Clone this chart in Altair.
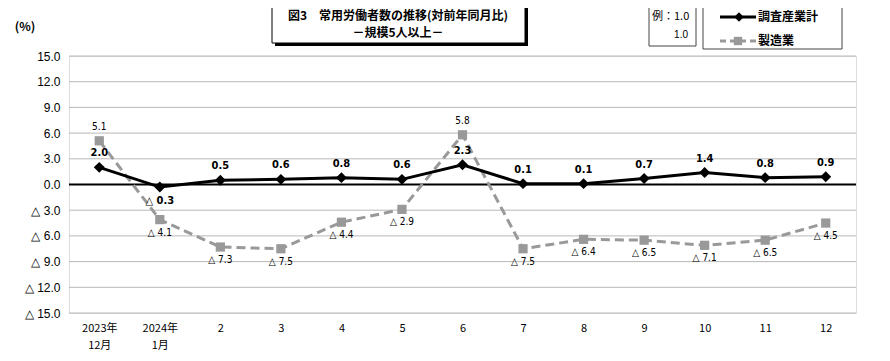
import altair as alt
import pandas as pd

months = ["2023年|12月", "2024年|1月", "2", "3", "4", "5", "6", "7", "8", "9", "10", "11", "12"]
total = [2.0, -0.3, 0.5, 0.6, 0.8, 0.6, 2.3, 0.1, 0.1, 0.7, 1.4, 0.8, 0.9]
mfg = [5.1, -4.1, -7.3, -7.5, -4.4, -2.9, 5.8, -7.5, -6.4, -6.5, -7.1, -6.5, -4.5]
y_ticks = [-15, -12, -9, -6, -3, 0, 3, 6, 9, 12, 15]

W, H = 787, 257
NUMFONT = "Liberation Sans Narrow, DejaVu Sans Condensed, Arial, sans-serif"
JPFONT = "Noto Sans CJK JP, sans-serif"


def lab(v):
    return ("△ " + f"{abs(v):.1f}") if v < 0 else f"{v:.1f}"


df_t = pd.DataFrame({"month": months, "v": total, "label": [lab(v) for v in total]})
df_m = pd.DataFrame({"month": months, "v": mfg, "label": [lab(v) for v in mfg]})
df_grid = pd.DataFrame({"v": y_ticks})

xenc = alt.X(
    "month:O",
    sort=months,
    scale=alt.Scale(type="point", padding=0.5),
    axis=alt.Axis(
        title=None, labelAngle=0, ticks=False, domain=False, grid=False,
        labelExpr="split(datum.label, '|')", labelFont=JPFONT,
        labelFontSize=11, labelPadding=9, labelLineHeight=17, labelColor="#000",
    ),
)
yscale = alt.Scale(domain=[-15, 15], nice=False, zero=False)
yaxis = alt.Axis(
    title=None, values=y_ticks, grid=False, labelOverlap=False,
    domain=False, ticks=False, labelPadding=9, labelFont="Liberation Sans, Arial, sans-serif",
    labelFontSize=12, labelColor="#000",
    labelExpr="datum.value < 0 ? '△ ' + format(-datum.value, '.1f') : format(datum.value, '.1f')",
)
yenc = alt.Y("v:Q", scale=yscale, axis=yaxis)

base_m = alt.Chart(df_m)
base_t = alt.Chart(df_t)

grid = alt.Chart(df_grid).mark_rule(color="#b8b8b8", strokeWidth=1).encode(y=yenc)
zero = alt.Chart(pd.DataFrame({"v": [0]})).mark_rule(color="#000", strokeWidth=2).encode(y=yenc)

m_line = base_m.mark_line(color="#999999", strokeWidth=3, strokeDash=[9, 5]).encode(x=xenc, y=yenc)
m_pts = base_m.mark_point(shape="square", filled=True, color="#999999", size=85, opacity=1).encode(x=xenc, y=yenc)
m_lab_pos = base_m.transform_filter("datum.v >= 0").mark_text(
    dy=-14, font=NUMFONT, fontSize=10, color="#000").encode(x=xenc, y=yenc, text="label:N")
m_lab_neg = base_m.transform_filter("datum.v < 0").mark_text(
    dy=13, font=NUMFONT, fontSize=10, color="#000").encode(x=xenc, y=yenc, text="label:N")

t_line = base_t.mark_line(color="#000", strokeWidth=3).encode(x=xenc, y=yenc)
t_pts = base_t.mark_point(shape="diamond", filled=True, color="#000", size=120, opacity=1).encode(x=xenc, y=yenc)
t_lab_pos = base_t.transform_filter("datum.v >= 0").mark_text(
    dy=-14, font=NUMFONT, fontSize=11, fontWeight="bold", color="#000").encode(x=xenc, y=yenc, text="label:N")
t_lab_neg = base_t.transform_filter("datum.v < 0").mark_text(
    dy=14, font=NUMFONT, fontSize=11, fontWeight="bold", color="#000").encode(x=xenc, y=yenc, text="label:N")

one = pd.DataFrame({"a": [0]})
X0, Y0 = 69, 56  # plot origin on page


def px(x):
    return alt.value(x - X0)


def py(y):
    return alt.value(y - Y0)


def box(x1, y1, x2, y2, fill="#fff", stroke="#000", sw=1):
    return alt.Chart(one).mark_rect(fill=fill, stroke=stroke, strokeWidth=sw).encode(
        x=px(x1), x2=px(x2), y=py(y1), y2=py(y2))


def txt(x, y, s, size=12, weight="normal", align="center", font=JPFONT):
    return alt.Chart(one).mark_text(text=s, fontSize=size, fontWeight=weight, align=align,
                                    baseline="middle", font=font, color="#000").encode(x=px(x), y=py(y))


ann = [
    txt(25, 27, "(%)", size=12, weight="bold"),
    box(272, 3, 525, 43),
    box(525, 6, 528, 46, fill="#000", stroke="#000", sw=0),
    box(275, 43, 528, 46, fill="#000", stroke="#000", sw=0),
    txt(398, 16, "図3　常用労働者数の推移(対前年同月比)", size=12, weight="bold"),
    txt(398, 33, "－規模5人以上－", size=12, weight="bold"),
    box(649, 5, 696, 46, stroke="#444"),
    txt(652, 17, "例：1.0", size=11, align="left"),
    txt(688, 35, "1.0", size=10, align="right", font="Liberation Sans, Arial, sans-serif"),
    box(703, 5, 842, 49, stroke="#444"),
    alt.Chart(one).mark_rule(color="#000", strokeWidth=3).encode(
        x=px(720), x2=px(756), y=py(17)),
    alt.Chart(one).mark_point(shape="diamond", filled=True, color="#000", size=90, opacity=1).encode(
        x=px(739), y=py(17)),
    txt(758, 17, "調査産業計", size=12, weight="bold", align="left"),
    alt.Chart(one).mark_rule(color="#999999", strokeWidth=3, strokeDash=[6, 4]).encode(
        x=px(720), x2=px(756), y=py(41)),
    alt.Chart(one).mark_point(shape="square", filled=True, color="#999999", size=70, opacity=1).encode(
        x=px(738), y=py(41)),
    txt(758, 41, "製造業", size=12, weight="bold", align="left"),
]

chart = alt.layer(
    grid, zero, m_line, t_line, m_pts, t_pts, m_lab_pos, m_lab_neg, t_lab_pos, t_lab_neg, *ann
).properties(
    width=W, height=H,
    autosize=alt.AutoSizeParams(type="none"),
    padding={"left": X0 - 8, "top": Y0 - 8, "right": 874 - (X0 - 8) - W, "bottom": 345 - (Y0 - 8) - H},
).configure_view(stroke="#444", strokeWidth=1).configure(background="#fff")

chart.save("out.html", embed_options={"renderer": "svg", "actions": False})
